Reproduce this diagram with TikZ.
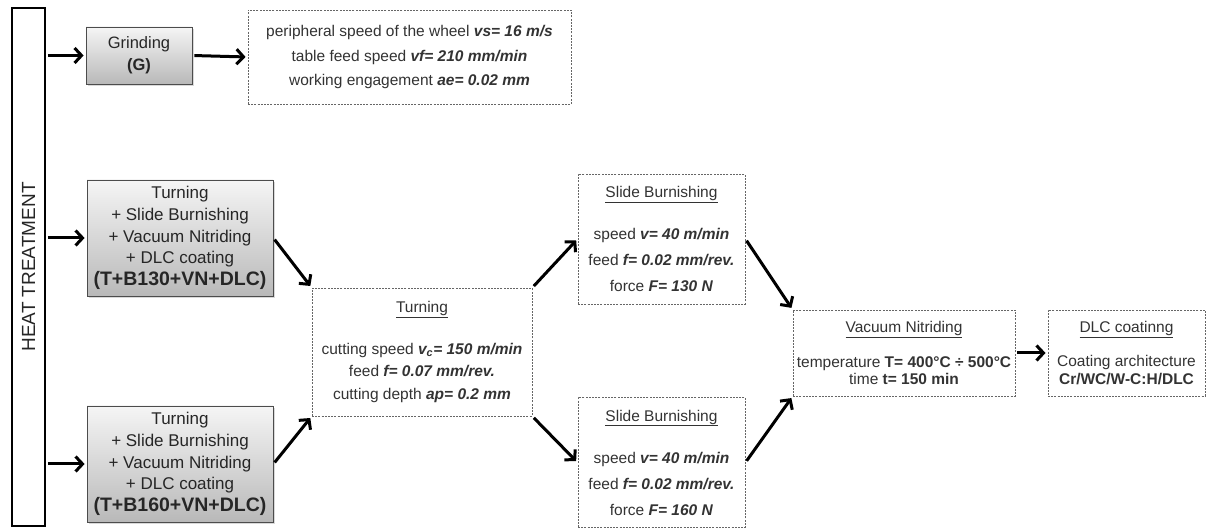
\documentclass[tikz,border=0pt]{standalone}
\usepackage{fontspec}
\setmainfont{Liberation Sans}
\usetikzlibrary{arrows.meta,shadows}

\newcommand{\val}[1]{\textbf{\textit{#1}}}

\tikzset{
 procbox/.style={draw=black!70, line width=0.8pt, top color=gray!8, bottom color=gray!55,
   text=black!85, align=center, inner sep=0pt,
   drop shadow={shadow xshift=2pt, shadow yshift=-2pt, opacity=0.3}},
 parbox/.style={draw=black!60, line width=0.9pt, dash pattern=on 2pt off 1.2pt,
   fill=white, text=black!80, align=center, inner sep=0pt},
 flow/.style={line width=3pt, shorten <=2pt, shorten >=2pt,
   -{Straight Barb[length=7pt, width=15pt]}},
}

\begin{document}
\begin{tikzpicture}[x=1pt, y=1pt]
 \useasboundingbox (0,0) rectangle (1211,530);

 \node[draw, line width=1.8pt, rotate=90, minimum width=518pt, minimum height=33pt,
   inner sep=0pt, font=\fontsize{19}{21}\selectfont, text=black!85] (heat) at (28.5,263) {HEAT TREATMENT};

 % grinding branch
 \node[procbox, minimum width=106pt, minimum height=57pt, font=\fontsize{16.5}{22}\selectfont] (grind) at (139,474.5)
   {Grinding\\ \textbf{(G)}};
 \node[parbox, minimum width=323pt, minimum height=94pt, font=\fontsize{15.5}{24.5}\selectfont] (gpar) at (409.5,473)
   {peripheral speed of the wheel \val{vs= 16 m/s}\\
    table feed speed \val{vf= 210 mm/min}\\
    working engagement \val{ae= 0.02 mm}};

 % process chains
 \node[procbox, minimum width=186pt, minimum height=116pt, font=\fontsize{17}{21.7}\selectfont] (b130) at (180,292)
   {Turning\\ + Slide Burnishing\\ + Vacuum Nitriding\\ + DLC coating\\
    {\fontsize{19.5}{22}\selectfont\bfseries (T+B130+VN+DLC)}};
 \node[procbox, minimum width=186pt, minimum height=116pt, font=\fontsize{17}{21.7}\selectfont] (b160) at (180,66)
   {Turning\\ + Slide Burnishing\\ + Vacuum Nitriding\\ + DLC coating\\
    {\fontsize{19.5}{22}\selectfont\bfseries (T+B160+VN+DLC)}};

 \node[parbox, minimum width=220pt, minimum height=128pt, font=\fontsize{15.5}{22.5}\selectfont] (turn) at (422,178)
   {\underline{Turning}\\[19pt]
    cutting speed \val{v\textsubscript{c}= 150 m/min}\\
    feed \val{f= 0.07 mm/rev.}\\
    cutting depth \val{ap= 0.2 mm}};

 \node[parbox, minimum width=167pt, minimum height=130pt, font=\fontsize{15.5}{26}\selectfont] (sb1) at (661.5,291)
   {\underline{Slide Burnishing}\\[16pt]
    speed \val{v= 40 m/min}\\
    feed \val{f= 0.02 mm/rev.}\\
    force \val{F= 130 N}};
 \node[parbox, minimum width=167pt, minimum height=130pt, font=\fontsize{15.5}{26}\selectfont] (sb2) at (661.5,67.5)
   {\underline{Slide Burnishing}\\[16pt]
    speed \val{v= 40 m/min}\\
    feed \val{f= 0.02 mm/rev.}\\
    force \val{F= 160 N}};

 \node[parbox, minimum width=222pt, minimum height=86pt, font=\fontsize{15.5}{17.5}\selectfont] (vn) at (904,177)
   {\underline{Vacuum Nitriding}\\[17pt]
    temperature \textbf{T= 400°C ÷ 500°C}\\
    time \textbf{t= 150 min}};
 \node[parbox, minimum width=157pt, minimum height=86pt, font=\fontsize{15.5}{17.5}\selectfont] (dlc) at (1126.5,177)
   {\underline{DLC coatinng}\\[17pt]
    Coating architecture\\
    \textbf{Cr/WC/W-C:H/DLC}};

 % arrows
 \draw[flow] (heat.south |- grind.west) -- (grind.west);
 \draw[flow] (grind.east) -- (gpar.west);
 \draw[flow] (heat.south |- b130.west) -- (b130.west);
 \draw[flow] (heat.south |- b160.west) -- (b160.west);

 \draw[flow] (b130.east) -- (turn.north west);
 \draw[flow] (b160.east) -- (turn.south west);
 \draw[flow] (turn.north east) -- (sb1.west);
 \draw[flow] (turn.south east) -- (sb2.west);
 \draw[flow] (sb1.east) -- (vn.north west);
 \draw[flow] (sb2.east) -- (vn.south west);
 \draw[flow] (vn.east) -- (dlc.west);
\end{tikzpicture}
\end{document}
